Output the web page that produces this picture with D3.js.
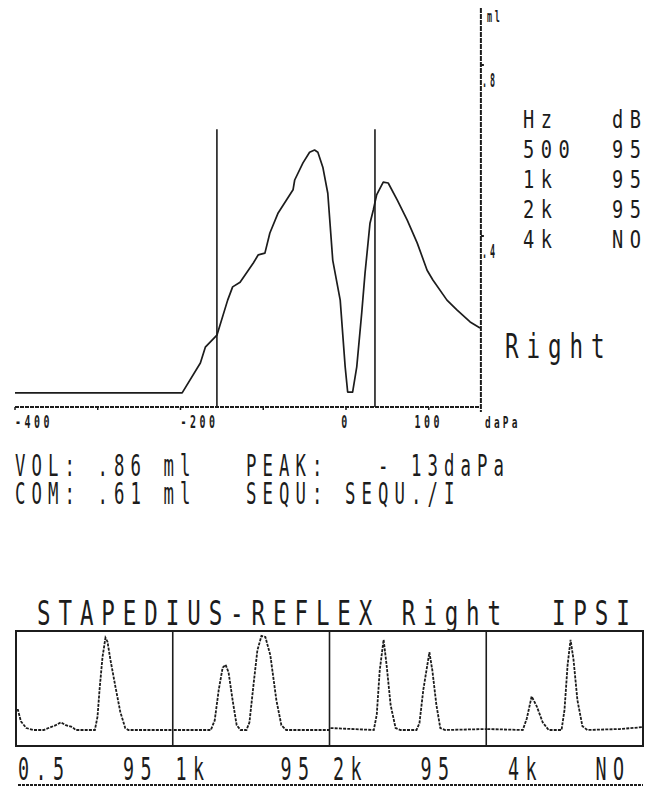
<!DOCTYPE html>
<html>
<head>
<meta charset="utf-8">
<script src="https://cdn.jsdelivr.net/npm/d3@7"></script>
<style>
  body { margin: 0; background: #fff; }
  svg { display: block; }
</style>
</head>
<body>
<svg width="652" height="787"></svg>
<script>
var svg = d3.select('svg');

// tympanogram, pressure in daPa / compliance in ml
var tympPressure = [-400, -198, -176, -170, -156, -143, -137, -128, -112, -106, -98, -92, -82, -64, -62, -52, -44, -38, -34, -28,
    -22, -16, -7, -1, 2, 8, 13, 19, 23, 29, 33, 37, 45, 51, 62, 74, 86, 98, 105, 122, 134, 150, 162];
var tympCompliance = [0.033, 0.033, 0.103, 0.140, 0.168, 0.250, 0.281, 0.292, 0.337, 0.356, 0.360, 0.407, 0.454, 0.508, 0.531, 0.571, 0.596, 0.601, 0.596, 0.561,
    0.500, 0.343, 0.250, 0.094, 0.035, 0.035, 0.094, 0.220, 0.313, 0.430, 0.461, 0.496, 0.526, 0.524, 0.484, 0.437, 0.384, 0.320, 0.297, 0.250, 0.227, 0.199, 0.185];
var pressureTicks = [-400, -200, 0, 100];
var complianceTicks = [0.8, 0.4];
var markerPressure = [-156, 35];

var ear = 'Right';
var probe = 'IPSI';
var tableFreqs = ['500', '1k', '2k', '4k'];
var tableLevels = ['95', '95', '95', 'NO'];
var reflexFreqs = ['0.5', '1k', '2k', '4k'];

var volume = '.86';
var compliance = '.61';
var peakPressure = '13';
var sequence = 'SEQU./I';

// stapedius reflex traces, t = fraction of panel time, a = amplitude
var reflexT = [
    [0, 0.006, 0.025, 0.06, 0.105, 0.172, 0.217, 0.249, 0.281, 0.313, 0.357, 0.376, 0.5, 0.517, 0.53, 0.549, 0.568, 0.581, 0.6, 0.632, 0.663, 0.695, 0.715, 1],
    [0, 0.238, 0.263, 0.289, 0.314, 0.333, 0.352, 0.378, 0.404, 0.429, 0.467, 0.486, 0.512, 0.537, 0.563, 0.588, 0.62, 0.659, 0.691, 0.722, 1],
    [0, 0.278, 0.297, 0.316, 0.341, 0.36, 0.386, 0.418, 0.45, 0.552, 0.571, 0.596, 0.635, 0.654, 0.68, 0.705, 0.737, 1],
    [0, 0.228, 0.254, 0.285, 0.317, 0.356, 0.394, 0.477, 0.496, 0.516, 0.535, 0.554, 0.579, 0.611, 0.643, 0.852, 1]
];
var reflexA = [
    [21, 21, 9, 2, 0, 0, 3, 5, 8, 5, 3, 0, 0, 14, 42, 76, 96, 92, 73, 45, 19, 2, 0, 0],
    [0, 0, 10, 42, 65, 68, 60, 31, 5, 0, 0, 8, 47, 83, 98, 97, 78, 31, 5, 0, 0],
    [2, 0, 16, 62, 94, 68, 26, 2, 0, 0, 7, 42, 81, 62, 26, 2, 0, 1],
    [1, 0, 12, 35, 25, 8, 0, 0, 21, 68, 94, 73, 31, 4, 0, 1, 3]
];

var ink = '#1c1c1c';

// printer-like text: monospaced, tall narrow cells
function ptext(sel, str, x, base, pitch, cap, weight) {
    var fs = pitch * 1.05;
    var sy = cap / (0.729 * fs);
    return sel.append('text')
        .attr('transform', 'translate(' + x + ',' + base + ') scale(1,' + sy + ')')
        .attr('font-family', 'DejaVu Sans Mono, monospace')
        .attr('font-size', fs)
        .attr('letter-spacing', pitch - 0.602 * fs)
        .attr('font-weight', weight || 'normal')
        .attr('fill', ink)
        .style('white-space', 'pre')
        .text(str);
}

// ---------- tympanogram ----------
var x = d3.scaleLinear().domain([-400, 0]).range([15, 346]);
var y = d3.scaleLinear().domain([0, 0.8]).range([407, 65]);
var xEnd = 163;

var tymp = svg.append('g');

tymp.append('line')
    .attr('x1', x(-400)).attr('x2', x(xEnd))
    .attr('y1', y(0)).attr('y2', y(0))
    .attr('stroke', ink).attr('stroke-width', 2)
    .attr('stroke-dasharray', '4,1');

tymp.selectAll('.xtick')
    .data([-400, -300, -200, -100, 0, 100]).enter()
    .append('line')
    .attr('x1', function(d){ return x(d) })
    .attr('x2', function(d){ return x(d) })
    .attr('y1', y(0)).attr('y2', y(0) + 3)
    .attr('stroke', ink).attr('stroke-width', 1.5);

tymp.append('line')
    .attr('x1', x(xEnd)).attr('x2', x(xEnd))
    .attr('y1', 8).attr('y2', y(0) + 5)
    .attr('stroke', ink).attr('stroke-width', 2)
    .attr('stroke-dasharray', '5,1');

tymp.selectAll('.ytick')
    .data(complianceTicks).enter()
    .append('line')
    .attr('x1', x(xEnd)).attr('x2', x(xEnd) + 3)
    .attr('y1', function(d){ return y(d) })
    .attr('y2', function(d){ return y(d) })
    .attr('stroke', ink).attr('stroke-width', 2);

tymp.selectAll('.marker')
    .data(markerPressure).enter()
    .append('line')
    .attr('x1', function(d){ return x(d) })
    .attr('x2', function(d){ return x(d) })
    .attr('y1', y(0.65)).attr('y2', y(0))
    .attr('stroke', ink).attr('stroke-width', 1.6);

var tympLine = d3.line()
    .x(function(d){ return x(d[0]) })
    .y(function(d){ return y(d[1]) });

tymp.append('path')
    .datum(d3.zip(tympPressure, tympCompliance))
    .attr('d', tympLine)
    .attr('fill', 'none')
    .attr('stroke', ink)
    .attr('stroke-width', 1.7)
    .attr('stroke-linejoin', 'round');

// x labels: negatives start at tick, others centred
pressureTicks.forEach(function(d){
    var s = String(d);
    var w = s.length * 9.5;
    var left = d < 0 ? x(d) : x(d) - w / 2;
    ptext(tymp, s, left, 428, 9.5, 13, 'bold');
});
ptext(tymp, 'daPa', x(xEnd) + 4, 428, 9, 12, 'bold');
ptext(tymp, 'ml', x(xEnd) + 6, 22, 8, 12, 'bold');
complianceTicks.forEach(function(d){
    ptext(tymp, String(d).replace('0.', '.'), x(xEnd) + 1, y(d) + 22, 8, 14, 'bold');
});

// frequency / level table
var tableTop = 128, tablePitch = 30;
ptext(svg, 'Hz', 523, tableTop, 17.8, 18);
ptext(svg, 'dB', 612, tableTop, 17.8, 18);
tableFreqs.forEach(function(f, i){
    ptext(svg, f, 523, tableTop + (i + 1) * tablePitch, 17.8, 18);
    ptext(svg, tableLevels[i], 612, tableTop + (i + 1) * tablePitch, 17.8, 18);
});
ptext(svg, ear, 505, 358, 21.5, 24);

// results
ptext(svg, 'VOL: ' + volume + ' ml   PEAK:   - ' + peakPressure + 'daPa', 15, 476, 16.5, 22);
ptext(svg, 'COM: ' + compliance + ' ml   SEQU: ' + sequence, 15, 504, 16.5, 22);

// ---------- stapedius reflex ----------
var panelX = d3.scaleLinear().domain([0, reflexFreqs.length]).range([16, 643]);
var amp = d3.scaleLinear().domain([0, 100]).range([730, 634]);
var boxTop = 631, boxBottom = 746;

ptext(svg, 'STAPEDIUS-REFLEX ' + ear + '  ' + probe, 37, 625, 21.46, 25);

var reflex = svg.append('g');

reflex.append('rect')
    .attr('x', panelX(0)).attr('y', boxTop)
    .attr('width', panelX(reflexFreqs.length) - panelX(0))
    .attr('height', boxBottom - boxTop)
    .attr('fill', 'none')
    .attr('stroke', ink).attr('stroke-width', 2);

reflex.selectAll('.divider')
    .data(d3.range(1, reflexFreqs.length)).enter()
    .append('line')
    .attr('x1', function(d){ return panelX(d) })
    .attr('x2', function(d){ return panelX(d) })
    .attr('y1', boxTop).attr('y2', boxBottom)
    .attr('stroke', ink).attr('stroke-width', 1.6);

reflexT.forEach(function(ts, i){
    var px = d3.scaleLinear().domain([0, 1]).range([panelX(i) + 1, panelX(i + 1)]);
    var line = d3.line()
        .x(function(d){ return px(d[0]) })
        .y(function(d){ return amp(d[1]) });
    reflex.append('path')
        .datum(d3.zip(ts, reflexA[i]))
        .attr('d', line)
        .attr('fill', 'none')
        .attr('stroke', ink)
        .attr('stroke-width', 1.8)
        .attr('stroke-dasharray', '3,1.2');
});

// labels under the panels on a fixed printer grid
var freqCols = [0, 9, 18, 28];
var levelCols = [6, 15, 23, 33];
reflexFreqs.forEach(function(f, i){
    ptext(svg, f, 18 + freqCols[i] * 17.5, 780, 17.5, 23);
    ptext(svg, tableLevels[i], 18 + levelCols[i] * 17.5, 780, 17.5, 23);
});
svg.append('line')
    .attr('x1', 18).attr('x2', 643)
    .attr('y1', 785).attr('y2', 785)
    .attr('stroke', ink).attr('stroke-width', 2)
    .attr('stroke-dasharray', '3,1');
</script>
</body>
</html>
